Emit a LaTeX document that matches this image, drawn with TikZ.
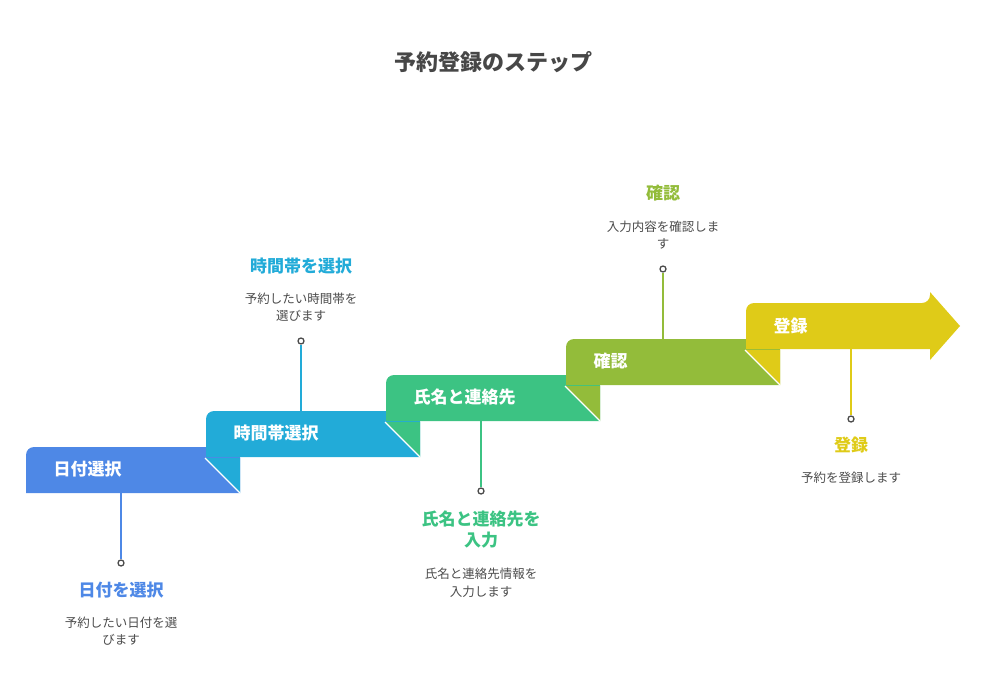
\documentclass[tikz,border=0pt]{standalone}
\usepackage{fontspec}
\setmainfont{Noto Sans CJK JP}
\begin{document}
\begin{tikzpicture}[x=1pt,y=-1pt,
  lab/.style={font=\fontsize{17}{19}\selectfont\bfseries,text=white,anchor=west},
  ttl/.style={font=\fontsize{17}{21}\selectfont\bfseries,align=center},
  dsc/.style={font=\fontsize{12.5}{17.5}\selectfont,text=black!70,align=center},
  dot/.style={circle,draw=black!70,line width=1.3pt,fill=white,inner sep=0pt,minimum size=6pt},
  con/.style={line width=1.5pt}]
\definecolor{c1}{HTML}{4E88E6}\definecolor{c2}{HTML}{22ABD8}\definecolor{c3}{HTML}{3CC383}
\definecolor{c4}{HTML}{93BC3A}\definecolor{c5}{HTML}{DFCB18}
\useasboundingbox (0,0) rectangle (986,698);
\node[font=\fontsize{22}{24}\selectfont\bfseries,text=black!72] (title) at (493,62) {予約登録のステップ};
% steps
\foreach \k/\c/\n in {0/c1/c2,1/c2/c3,2/c3/c4,3/c4/c5}{
  \pgfmathsetmacro{\xx}{26+180*\k}\pgfmathsetmacro{\yy}{447-36*\k}
  \fill[\c,rounded corners=8pt] (\xx,\yy+46) -- (\xx,\yy) -- (\xx+214,\yy) [sharp corners] -- (\xx+214,\yy+46) -- cycle;
  \fill[\n] (\xx+179,\yy+11) -- (\xx+214,\yy+11) -- (\xx+214,\yy+46) -- cycle;
  \draw[white,line width=1.3pt] (\xx+179,\yy+11) -- (\xx+214,\yy+46);
}
\fill[c5,rounded corners=8pt] (746,349) -- (746,303) -- (930,303) [sharp corners] -- (930,292) -- (960,326) -- (930,360) -- (930,349) -- cycle;
\node[lab] (s1) at (50,469) {日付選択};
\node[lab] (s2) at (230,433) {時間帯選択};
\node[lab] (s3) at (410,397) {氏名と連絡先};
\node[lab] (s4) at (590,361) {確認};
\node[lab] (s5) at (770,326) {登録};
% connectors
\node[dot] (d1) at (121,563) {};\draw[con,c1] (121,492) -- (d1);
\node[dot] (d2) at (301,341) {};\draw[con,c2] (301,411) -- (d2);
\node[dot] (d3) at (481,491) {};\draw[con,c3] (481,420) -- (d3);
\node[dot] (d4) at (663,269) {};\draw[con,c4] (663,339) -- (d4);
\node[dot] (d5) at (851,419) {};\draw[con,c5] (851,349) -- (d5);
% texts
\node[ttl,text=c1] (t1) at (121,590) {日付を選択};
\node[dsc] (e1) at (121,631) {予約したい日付を選\\びます};
\node[ttl,text=c2] (t2) at (301,266) {時間帯を選択};
\node[dsc] (e2) at (301,307) {予約したい時間帯を\\選びます};
\node[ttl,text=c3] (t3) at (481,530) {氏名と連絡先を\\入力};
\node[dsc] (e3) at (481,583) {氏名と連絡先情報を\\入力します};
\node[ttl,text=c4] (t4) at (663,193) {確認};
\node[dsc] (e4) at (663,235) {入力内容を確認しま\\す};
\node[ttl,text=c5] (t5) at (851,445) {登録};
\node[dsc] (e5) at (851,478) {予約を登録します};
\end{tikzpicture}
\end{document}
